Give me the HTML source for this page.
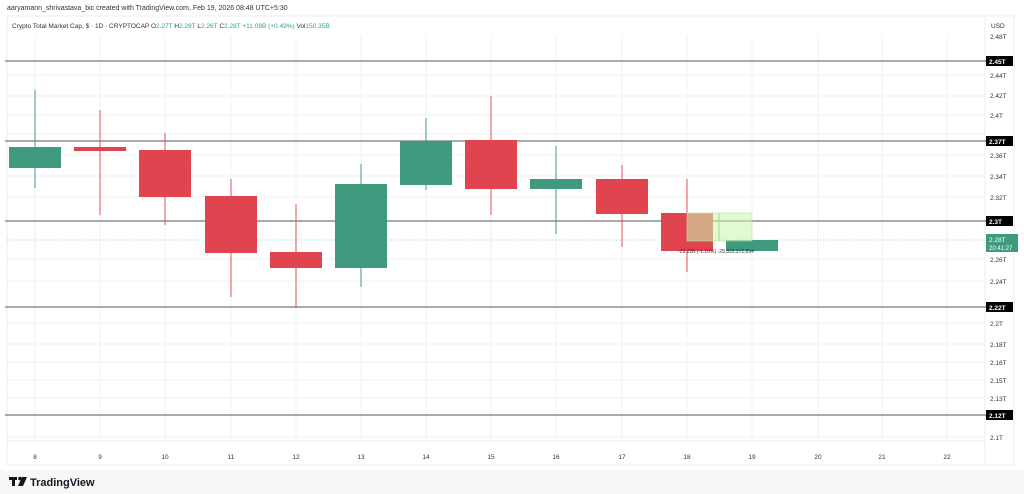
<!DOCTYPE html>
<html><head><meta charset="utf-8"><style>
html,body{margin:0;padding:0;background:#fff;}
svg{display:block;font-family:"Liberation Sans","DejaVu Sans",sans-serif;}
</style></head><body>
<svg width="1024" height="494" viewBox="0 0 1024 494" xmlns="http://www.w3.org/2000/svg">
<rect width="1024" height="494" fill="#fff"/>
<rect x="0" y="470" width="1024" height="24" fill="#f7f7f7"/>
<text x="7" y="10" font-size="7" fill="#333">aaryamann_shrivastava_bic created with TradingView.com, Feb 19, 2026 08:48 UTC+5:30</text>
<rect x="7" y="16" width="1007" height="449" fill="none" stroke="#eee" stroke-width="1"/>
<text x="12" y="28" font-size="6.5" fill="#333">Crypto Total Market Cap, $ · 1D · CRYPTOCAP <tspan fill="#333">O</tspan><tspan fill="#26a69a">2.27T</tspan> <tspan fill="#333">H</tspan><tspan fill="#26a69a">2.28T</tspan> <tspan fill="#333">L</tspan><tspan fill="#26a69a">2.26T</tspan> <tspan fill="#333">C</tspan><tspan fill="#26a69a">2.28T</tspan> <tspan fill="#26a69a">+11.08B (+0.49%)</tspan> <tspan fill="#333">Vol</tspan><tspan fill="#26a69a">150.35B</tspan></text>
<line x1="985" y1="16" x2="985" y2="465" stroke="#eee"/>
<line x1="7" y1="441" x2="985" y2="441" stroke="#eee"/>
<g stroke="#f2f2f2" stroke-width="1">
<line x1="35" y1="36" x2="35" y2="441"/><line x1="100" y1="36" x2="100" y2="441"/><line x1="165" y1="36" x2="165" y2="441"/><line x1="231" y1="36" x2="231" y2="441"/><line x1="296" y1="36" x2="296" y2="441"/><line x1="361" y1="36" x2="361" y2="441"/><line x1="426" y1="36" x2="426" y2="441"/><line x1="491" y1="36" x2="491" y2="441"/><line x1="556" y1="36" x2="556" y2="441"/><line x1="622" y1="36" x2="622" y2="441"/><line x1="687" y1="36" x2="687" y2="441"/><line x1="752" y1="36" x2="752" y2="441"/><line x1="818" y1="36" x2="818" y2="441"/><line x1="882" y1="36" x2="882" y2="441"/><line x1="947" y1="36" x2="947" y2="441"/>
<line x1="7" y1="75" x2="985" y2="75"/><line x1="7" y1="96" x2="985" y2="96"/><line x1="7" y1="115" x2="985" y2="115"/><line x1="7" y1="134" x2="985" y2="134"/><line x1="7" y1="155" x2="985" y2="155"/><line x1="7" y1="176" x2="985" y2="176"/><line x1="7" y1="197" x2="985" y2="197"/><line x1="7" y1="259" x2="985" y2="259"/><line x1="7" y1="281" x2="985" y2="281"/><line x1="7" y1="323" x2="985" y2="323"/><line x1="7" y1="344" x2="985" y2="344"/><line x1="7" y1="362" x2="985" y2="362"/><line x1="7" y1="380" x2="985" y2="380"/><line x1="7" y1="398" x2="985" y2="398"/><line x1="7" y1="437" x2="985" y2="437"/>
</g>
<line x1="7" y1="240" x2="985" y2="240" stroke="#26a69a" stroke-dasharray="1,2" stroke-width="0.6"/>
<g stroke="#777" stroke-width="1.2">
<line x1="5" y1="61" x2="986" y2="61"/><line x1="5" y1="141" x2="986" y2="141"/><line x1="5" y1="221" x2="986" y2="221"/><line x1="5" y1="307" x2="986" y2="307"/><line x1="5" y1="415" x2="986" y2="415"/>
</g>
<g stroke="#3f9a80"><line x1="35" y1="90" x2="35" y2="188"/><line x1="361" y1="164" x2="361" y2="287"/><line x1="426" y1="118" x2="426" y2="190"/><line x1="556" y1="146" x2="556" y2="234"/></g>
<g stroke="#e0525a"><line x1="100" y1="110" x2="100" y2="215"/><line x1="165" y1="133" x2="165" y2="225"/><line x1="231" y1="179" x2="231" y2="297"/><line x1="296" y1="204" x2="296" y2="308"/><line x1="491" y1="96" x2="491" y2="215"/><line x1="622" y1="165" x2="622" y2="247"/><line x1="687" y1="179" x2="687" y2="272"/></g>
<g fill="#3f9a80">
<rect x="9" y="147" width="52" height="21"/><rect x="335" y="184" width="52" height="84"/><rect x="400" y="141" width="52" height="44"/><rect x="530" y="179" width="52" height="10"/><rect x="726" y="240" width="52" height="11"/>
</g>
<g fill="#e0454f">
<rect x="74" y="147" width="52" height="4"/><rect x="139" y="150" width="52" height="47"/><rect x="205" y="196" width="52" height="57"/><rect x="270" y="252" width="52" height="16"/><rect x="465" y="140" width="52" height="49"/><rect x="596" y="179" width="52" height="35"/><rect x="661" y="213" width="52" height="38"/>
</g>
<rect x="687" y="213" width="65" height="28" fill="#c8f5b0" fill-opacity="0.55" stroke="#b8e8a0" stroke-width="0.6"/>
<line x1="719" y1="213" x2="719" y2="241" stroke="#9ad080" stroke-width="0.8"/>
<text x="678" y="253" font-size="5" fill="#333">-29.22B (-1.10%) -29,333,372,894</text>
<text x="991" y="28" font-size="6.5" fill="#333">USD</text>
<g font-size="6.5" fill="#333">
<text x="990" y="39">2.48T</text><text x="990" y="78">2.44T</text><text x="990" y="98">2.42T</text><text x="990" y="118">2.4T</text><text x="990" y="158">2.36T</text><text x="990" y="179">2.34T</text><text x="990" y="200">2.32T</text><text x="990" y="262">2.26T</text><text x="990" y="284">2.24T</text><text x="990" y="326">2.2T</text><text x="990" y="347">2.18T</text><text x="990" y="365">2.16T</text><text x="990" y="383">2.15T</text><text x="990" y="401">2.13T</text><text x="990" y="440">2.1T</text>
</g>
<g fill="#000"><rect x="986" y="56" width="27" height="10"/><rect x="986" y="136" width="27" height="10"/><rect x="986" y="216" width="27" height="10"/><rect x="986" y="302" width="27" height="10"/><rect x="986" y="410" width="27" height="10"/></g>
<g font-size="6.5" fill="#fff" font-weight="bold"><text x="989" y="64">2.45T</text><text x="989" y="144">2.37T</text><text x="989" y="224">2.3T</text><text x="989" y="310">2.22T</text><text x="989" y="418">2.12T</text></g>
<rect x="986" y="234" width="32" height="18" fill="#3f9a80"/>
<text x="989" y="242" font-size="6.5" fill="#fff">2.28T</text><text x="989" y="250" font-size="6" fill="#fff">20:41:27</text>
<g font-size="6.5" fill="#333" text-anchor="middle">
<text x="35" y="459">8</text><text x="100" y="459">9</text><text x="165" y="459">10</text><text x="231" y="459">11</text><text x="296" y="459">12</text><text x="361" y="459">13</text><text x="426" y="459">14</text><text x="491" y="459">15</text><text x="556" y="459">16</text><text x="622" y="459">17</text><text x="687" y="459">18</text><text x="752" y="459">19</text><text x="818" y="459">20</text><text x="882" y="459">21</text><text x="947" y="459">22</text>
</g>
<g fill="#131722"><rect x="9" y="477" width="8" height="3"/><rect x="12" y="477" width="3" height="9"/><circle cx="20" cy="478.5" r="1.8"/><polygon points="22,477 27,477 23,486 18,486"/></g>
<text x="30" y="486" font-size="11" font-weight="bold" fill="#131722">TradingView</text>
</svg>
</body></html>
